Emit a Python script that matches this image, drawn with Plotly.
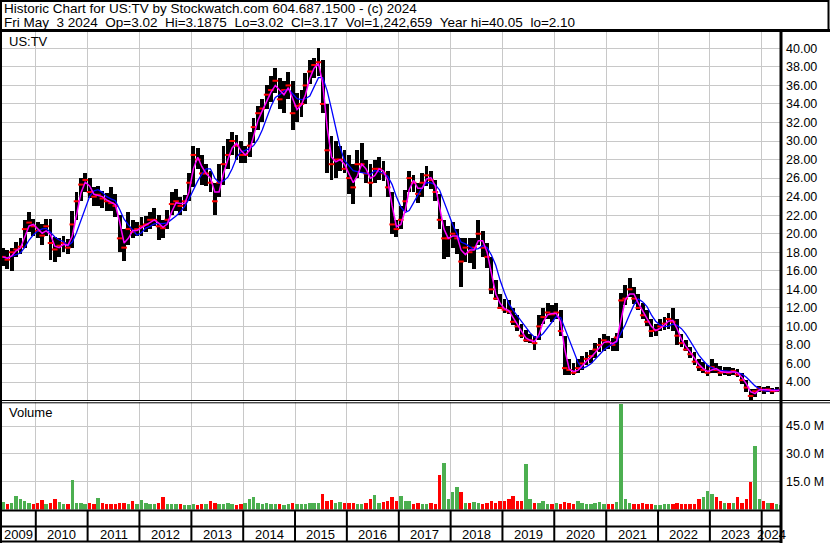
import pandas as pd
import plotly.graph_objects as go

# ---------------- data (monthly, May 2009 .. May 2024) ----------------
month_start = "2009-05-01"
month_end = "2024-05-01"

close = [
    17.5, 17.2, 18.0, 18.3, 18.6, 20.5, 21.2, 20.8,                      # 2009 May-Dec
    20.3, 19.8, 20.8, 19.0, 18.3, 18.7, 19.0, 18.5, 21.0, 23.5, 25.3, 25.8,  # 2010
    24.5, 24.0, 24.2, 23.8, 23.5, 23.3, 23.0, 19.5, 18.5, 20.5, 20.2, 20.5,  # 2011
    20.8, 21.0, 21.5, 21.5, 20.8, 20.6, 21.5, 23.2, 23.5, 23.0, 23.5, 25.5,  # 2012
    28.5, 28.0, 26.5, 26.5, 25.5, 23.5, 25.5, 27.5, 28.5, 30.0, 29.5, 28.5,  # 2013
    28.5, 29.5, 31.5, 33.0, 33.5, 35.0, 35.5, 36.5, 34.5, 35.5, 36.0, 33.0,  # 2014
    33.8, 34.0, 36.0, 37.5, 38.2, 38.5, 34.0, 29.0, 27.5, 28.0, 28.0, 27.0,  # 2015
    26.0, 25.0, 27.5, 27.5, 26.5, 25.5, 27.0, 27.0, 26.5, 25.0, 21.0, 20.5,  # 2016
    21.5, 23.5, 26.0, 25.5, 24.3, 25.5, 26.3, 25.8, 24.5, 21.5, 19.5, 19.5,  # 2017
    20.0, 19.5, 17.0, 18.5, 18.0, 18.5, 20.0, 18.5, 17.5, 14.0, 13.0, 12.0,  # 2018
    11.8, 11.6, 10.5, 10.0, 9.0, 8.5, 8.5, 8.2, 10.0, 11.0, 11.5, 11.3,      # 2019
    11.5, 9.5, 5.5, 5.3, 5.0, 5.5, 6.0, 6.5, 6.8, 7.5, 8.0, 8.5,             # 2020
    8.3, 8.0, 8.8, 12.8, 13.0, 14.0, 13.0, 12.0, 11.2, 10.5, 9.5, 9.6,       # 2021
    10.0, 10.3, 10.8, 10.5, 9.0, 8.2, 7.5, 7.0, 6.2, 5.6, 5.3, 5.0,          # 2022
    5.6, 5.3, 5.0, 5.1, 5.0, 5.2, 4.8, 4.2, 3.4, 2.5, 3.0, 3.3,              # 2023
    3.1, 3.2, 3.0, 3.1, 3.17,                                                # 2024 Jan-May
]

high = [
    18.5, 18.2, 18.5, 19.1, 19.5, 21.5, 22.3, 21.6,
    21.3, 21.0, 21.6, 21.6, 19.6, 19.5, 19.8, 19.4, 22.5, 24.5, 26.0, 26.6,
    26.0, 25.0, 25.2, 24.6, 24.4, 25.0, 24.3, 22.0, 20.5, 22.3, 21.5, 21.3,
    21.8, 21.9, 22.3, 22.8, 22.0, 21.5, 22.6, 24.5, 24.8, 24.0, 24.2, 26.5,
    29.5, 29.3, 28.5, 27.5, 26.8, 25.5, 27.5, 29.5, 30.2, 31.0, 30.7, 30.0,
    29.5, 31.0, 32.5, 33.8, 34.5, 36.0, 37.0, 37.9, 36.8, 36.5, 37.5, 36.5,
    35.2, 35.5, 37.3, 38.7, 39.0, 40.05, 38.7, 34.0, 30.5, 30.0, 29.5, 29.0,
    28.5, 27.5, 29.0, 29.8, 28.0, 27.5, 28.0, 28.3, 27.8, 26.8, 24.5, 21.5,
    23.0, 24.7, 26.8, 26.3, 25.5, 26.5, 27.3, 26.8, 25.8, 24.3, 21.5, 20.8,
    21.3, 20.5, 19.5, 19.5, 19.5, 19.5, 21.5, 20.3, 19.0, 17.5, 15.0, 13.5,
    13.0, 12.8, 12.0, 11.2, 10.3, 9.6, 9.2, 9.0, 11.2, 12.0, 12.5, 12.3,
    12.5, 11.8, 9.0, 6.5, 6.0, 6.5, 6.8, 7.2, 7.5, 8.2, 8.8, 9.2,
    9.0, 8.8, 9.3, 13.6, 14.5, 15.2, 14.3, 13.5, 12.5, 11.8, 10.8, 10.3,
    10.8, 11.0, 11.5, 12.0, 10.8, 9.2, 8.5, 7.8, 7.2, 6.5, 6.2, 5.8,
    6.5, 6.0, 5.7, 5.6, 5.6, 5.5, 5.4, 5.0, 4.2, 3.2, 3.3, 3.6,
    3.5, 3.6, 3.4, 3.5, 3.19,
]

low = [
    16.5, 16.2, 16.0, 17.5, 17.8, 18.5, 20.2, 19.8,
    19.5, 18.8, 19.8, 17.2, 17.0, 17.5, 18.0, 17.8, 18.5, 21.5, 23.5, 24.5,
    23.8, 23.0, 23.0, 22.8, 22.4, 22.5, 21.8, 18.0, 17.1, 18.8, 19.5, 19.8,
    19.8, 20.2, 20.5, 20.8, 19.3, 19.5, 20.5, 22.0, 22.5, 22.0, 22.5, 23.5,
    25.0, 27.0, 25.3, 25.2, 24.5, 22.0, 24.0, 25.3, 27.0, 28.5, 28.0, 27.6,
    27.6, 28.3, 29.8, 31.2, 32.0, 33.5, 34.2, 35.2, 33.5, 33.0, 34.5, 31.2,
    32.0, 32.6, 34.0, 36.2, 36.8, 37.0, 33.0, 26.5, 25.8, 26.0, 26.8, 26.5,
    24.3, 23.2, 26.0, 26.5, 25.5, 24.0, 25.5, 25.8, 25.7, 24.0, 20.0, 19.6,
    20.5, 22.5, 24.5, 24.5, 23.3, 24.0, 25.2, 24.8, 23.5, 20.5, 17.3, 17.5,
    18.5, 17.8, 14.3, 17.0, 16.8, 16.2, 18.8, 17.5, 16.3, 13.5, 12.8, 11.9,
    11.4, 11.3, 10.2, 9.5, 8.7, 8.3, 8.2, 7.5, 8.5, 10.3, 10.8, 10.5,
    10.8, 9.0, 4.8, 4.8, 4.8, 5.0, 5.3, 5.8, 6.0, 6.6, 7.2, 7.3,
    7.6, 7.3, 7.3, 8.8, 12.3, 13.2, 12.4, 11.8, 10.8, 10.0, 8.9, 9.0,
    9.5, 9.6, 9.7, 9.5, 8.0, 7.8, 7.3, 6.6, 5.8, 5.2, 5.0, 4.6,
    5.0, 5.0, 4.6, 4.8, 4.6, 4.8, 4.5, 3.8, 2.9, 2.1, 2.4, 2.9,
    2.7, 2.9, 2.7, 2.9, 3.02,
]

# volume in millions of shares (typical weekly level in each month)
volume = [
    4.2, 2.8, 3.3, 7.5, 5.6, 4.7, 3.3, 2.8,
    3.3, 5.1, 2.8, 3.7, 5.6, 4.2, 2.8, 2.8, 15.7, 3.7, 3.3, 2.8,
    3.3, 2.8, 6.0, 3.7, 2.8, 2.8, 2.8, 3.7, 3.3, 3.0, 4.7, 2.8,
    5.1, 3.7, 2.8, 2.8, 3.3, 6.5, 2.8, 2.8, 2.8, 2.8, 2.3, 2.3,
    2.8, 2.3, 2.8, 2.8, 4.7, 3.7, 2.8, 2.8, 3.3, 2.8, 2.3, 2.8,
    3.3, 5.6, 7.0, 3.7, 2.8, 3.7, 2.8, 2.8, 2.8, 2.3, 2.8, 3.3,
    2.8, 2.8, 2.8, 3.3, 3.7, 3.3, 8.4, 4.7, 5.1, 3.7, 4.2, 3.3,
    3.7, 3.3, 2.8, 2.8, 3.7, 5.6, 7.9, 3.7, 4.2, 4.7, 7.0, 4.7,
    7.4, 4.7, 4.7, 2.8, 3.3, 2.8, 2.8, 3.3, 2.8, 18.4, 25.1, 5.6,
    9.3, 12.1, 9.3, 3.7, 3.3, 4.2, 3.7, 2.8, 3.3, 4.7, 3.7, 4.7,
    4.7, 5.6, 7.4, 4.7, 4.7, 24.8, 5.6, 3.7, 3.3, 4.7, 2.8, 2.8,
    3.3, 2.8, 4.2, 3.3, 2.8, 4.7, 3.7, 2.8, 2.8, 3.3, 4.2, 2.8,
    2.8, 2.8, 4.2, 56.9, 5.6, 3.7, 2.8, 2.8, 3.3, 2.8, 2.8, 2.3,
    2.3, 2.8, 2.8, 2.8, 3.3, 2.8, 2.8, 2.8, 2.8, 5.6, 6.5, 10.2,
    8.4, 6.5, 4.7, 3.7, 3.3, 3.7, 6.5, 3.7, 5.6, 15.0, 34.1, 5.6,
    4.7, 3.7, 3.3, 2.8, 2.3,
]

# U = up (green) volume bar, D = down (red) volume bar
vol_dir = (
    "UDUUUUUD"
    "DDUDDUUDUUUU"
    "DDUDDDDDDUDU"
    "UUUUDDUUUDUU"
    "UDDUDDUUUUDD"
    "UUUUUUUUDUUD"
    "UUUUUUDDDUUD"
    "DDUUDDUUDDDD"
    "UUUDDUUDDDUU"
    "UUDUDUUDDDDD"
    "DDDDDUUDUUUD"
    "UDDDDUUUUUUU"
    "DDUUUUDDDDDU"
    "UUUDDDDDDDUU"
    "UDDUDUDDDDUU"
    "DUDUU"
)

price_ticks = [4, 6, 8, 10, 12, 14, 16, 18, 20, 22, 24, 26, 28, 30, 32, 34, 36, 38, 40]
volume_ticks = [15, 30, 45]
years = list(range(2009, 2025))

header_1 = "Historic Chart for US:TV by Stockwatch.com 604.687.1500 - (c) 2024"
header_2 = ("Fri May  3 2024  Op=3.02  Hi=3.1875  Lo=3.02  Cl=3.17  "
            "Vol=1,242,659  Year hi=40.05  lo=2.10")

# ---------------- derived ----------------
dates = pd.date_range(month_start, month_end, freq="MS") + pd.Timedelta(days=14)
df = pd.DataFrame({"close": close, "high": high, "low": low,
                   "vol": volume, "dir": list(vol_dir)}, index=dates)
ma_short = df["close"].rolling(2, min_periods=1).mean()
ma_long = df["close"].rolling(5, min_periods=1).mean()

W, H = 830, 543
def px(x):
    return x / W
def py(y):
    return 1 - y / H

x_range = ["2009-05-08", "2024-05-16"]
grid = "#c8c8c8"
font_family = "Liberation Sans, Arial, sans-serif"
nb = lambda s: s.replace(" ", "\u00a0")

fig = go.Figure()

DAY = 86400000
# price range bars
fig.add_trace(go.Bar(x=df.index, y=df["high"] - df["low"], base=df["low"],
                     width=27 * DAY, marker=dict(color="black", line_width=0),
                     xaxis="x", yaxis="y", showlegend=False))
# close ticks
fig.add_trace(go.Scatter(x=df.index, y=df["close"], mode="markers",
                         marker=dict(symbol="line-ew", size=4,
                                     line=dict(color="red", width=2)),
                         xaxis="x", yaxis="y", showlegend=False))
fig.add_trace(go.Scatter(x=df.index, y=ma_long, mode="lines",
                         line=dict(color="#0000ff", width=1.3),
                         xaxis="x", yaxis="y", showlegend=False))
fig.add_trace(go.Scatter(x=df.index, y=ma_short, mode="lines",
                         line=dict(color="#ff00ff", width=1.5),
                         xaxis="x", yaxis="y", showlegend=False))
# volume
vcolors = ["#4caf50" if d == "U" else "#ff0000" for d in df["dir"]]
fig.add_trace(go.Bar(x=df.index, y=df["vol"], width=24 * DAY,
                     marker=dict(color=vcolors, line_width=0),
                     xaxis="x2", yaxis="y2", showlegend=False))

year_starts = [f"{y}-01-01" for y in years[1:]]
axis_common = dict(showline=False, zeroline=False, ticks="",
                   tickfont=dict(family=font_family, size=12.5, color="black"))

fig.update_layout(
    width=W, height=H,
    margin=dict(l=0, r=0, t=0, b=0),
    paper_bgcolor="white", plot_bgcolor="white",
    font=dict(family=font_family, color="black"),
    hovermode=False,
    xaxis=dict(domain=[px(2), px(781)], range=x_range, type="date",
               anchor="y", tickvals=year_starts, showticklabels=False,
               showgrid=True, gridcolor=grid, gridwidth=1,
               showline=False, zeroline=False, ticks=""),
    xaxis2=dict(domain=[px(2), px(781)], range=x_range, type="date",
                anchor="y2", matches="x", tickvals=year_starts,
                showticklabels=False, showgrid=True, gridcolor=grid,
                gridwidth=1, showline=False, zeroline=False, ticks=""),
    yaxis=dict(domain=[py(400), py(31)], range=[2.06, 41.87], side="right",
               anchor="x", tickvals=price_ticks,
               ticktext=[f"{v:.2f}" for v in price_ticks],
               showgrid=True, gridcolor=grid, gridwidth=1,
               ticklabelstandoff=4, **axis_common),
    yaxis2=dict(domain=[py(509.5), py(402)], range=[0, 58], side="right",
                anchor="x2", tickvals=volume_ticks,
                ticktext=[f"{v:.1f} M" for v in volume_ticks],
                showgrid=True, gridcolor=grid, gridwidth=1,
                ticklabelstandoff=4, **axis_common),
    bargap=0,
)

shapes = []
def hline(y, x0, x1, w):
    shapes.append(dict(type="line", xref="paper", yref="paper",
                       x0=px(x0), x1=px(x1), y0=py(y), y1=py(y),
                       line=dict(color="black", width=w)))
def vline(x, y0, y1, w):
    shapes.append(dict(type="line", xref="paper", yref="paper",
                       x0=px(x), x1=px(x), y0=py(y0), y1=py(y1),
                       line=dict(color="black", width=w)))

hline(1, 0, 829, 2)          # top of header
hline(30.5, 0, 830, 3)       # bottom of header
vline(828.5, 0, 31, 2)       # right of header
vline(1, 0, 543, 2)          # left border
vline(781, 31, 543, 3)       # right border of panels
hline(400.5, 0, 830, 1)      # double separator
hline(402.8, 0, 830, 1)
hline(510.5, 0, 781, 2)      # bottom of volume
hline(526.5, 0, 781, 2)
hline(541.5, 0, 781, 2)
for ys in year_starts:
    shapes.append(dict(type="line", xref="x", yref="paper", x0=ys, x1=ys,
                       y0=py(510), y1=py(542),
                       line=dict(color="black", width=2)))
fig.update_layout(shapes=shapes)

ann = []
ann.append(dict(text=nb(header_1), x=px(2), y=py(8.5), xref="paper", yref="paper",
                xanchor="left", yanchor="middle", showarrow=False,
                font=dict(size=13.5, family=font_family)))
ann.append(dict(text=nb(header_2), x=px(2), y=py(22.5), xref="paper", yref="paper",
                xanchor="left", yanchor="middle", showarrow=False,
                font=dict(size=13.5, family=font_family)))
ann.append(dict(text="US:TV", x=px(7), y=py(41.5), xref="paper", yref="paper",
                xanchor="left", yanchor="middle", showarrow=False,
                font=dict(size=13, family=font_family)))
ann.append(dict(text="Volume", x=px(7), y=py(413), xref="paper", yref="paper",
                xanchor="left", yanchor="middle", showarrow=False,
                font=dict(size=13, family=font_family)))
# year labels centred in each visible year segment
bounds = [pd.Timestamp(x_range[0])] + [pd.Timestamp(s) for s in year_starts] + [pd.Timestamp(x_range[1])]
for i, yr in enumerate(years):
    mid = bounds[i] + (bounds[i + 1] - bounds[i]) / 2
    ann.append(dict(text=str(yr), x=mid, y=py(534.5), xref="x", yref="paper",
                    xanchor="center", yanchor="middle", showarrow=False,
                    font=dict(size=13, family=font_family)))
fig.update_layout(annotations=ann)

fig.write_html("out.html",
               config={"displayModeBar": False, "staticPlot": True},
               post_script="document.body.style.margin='0';"
                           "document.body.style.overflow='hidden';")
